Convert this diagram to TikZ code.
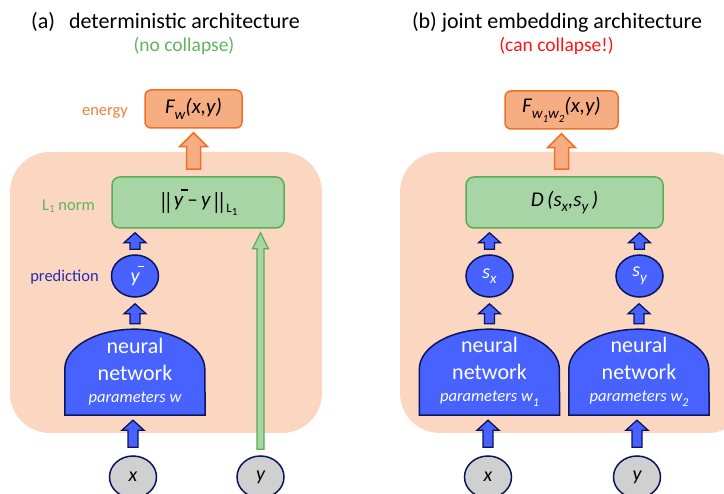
\documentclass[tikz,border=0pt]{standalone}
\usepackage{fontspec}
\setmainfont{Carlito}
\usetikzlibrary{calc,shapes.geometric}
\pgfdeclarelayer{background}
\pgfsetlayers{background,main}
\definecolor{bgsal}{RGB}{251,214,193}
\definecolor{orfill}{RGB}{247,173,130}
\definecolor{orline}{RGB}{238,112,40}
\definecolor{ortext}{RGB}{240,128,60}
\definecolor{grfill}{RGB}{167,213,166}
\definecolor{grline}{RGB}{90,174,86}
\definecolor{grtext}{RGB}{96,180,96}
\definecolor{nnblue}{RGB}{72,98,255}
\definecolor{navy}{RGB}{12,20,90}
\definecolor{predblue}{RGB}{40,45,175}
\definecolor{ingray}{RGB}{208,208,208}
\definecolor{cred}{RGB}{255,20,20}
\newcommand\sbs[1]{\raisebox{-0.28em}{\fontsize{15}{15}\selectfont #1}}
\newcommand\sbss[1]{\raisebox{-0.25em}{\fontsize{11}{11}\selectfont #1}}
\newcommand\ybar{\makebox[0pt][l]{\hspace{0.36em}\rule[0.76em]{0.3em}{0.06em}}\textit{y}}
\newcommand\nbar{\raisebox{-0.12em}{\scalebox{1}[1.12]{|}}}
\newcommand\dbar{\nbar\kern-4.5pt\nbar}
\newcommand\blockarrow[6]{%
  \draw[#1] let \p1=(#2), \p2=(#3) in
   (\x1-#4,\y1) -- (\x1-#4,\y2-#6) -- (\x1-#5,\y2-#6) -- (\x1,\y2) --
   (\x1+#5,\y2-#6) -- (\x1+#4,\y2-#6) -- (\x1+#4,\y1) -- cycle;}
\begin{document}
\begin{tikzpicture}[x=1pt,y=-1pt,
  ebox/.style={draw=orline,fill=orfill,line width=1.5pt,rounded corners=6pt,minimum width=97pt,minimum height=38pt,inner sep=0pt,font=\fontsize{21}{24}\selectfont\itshape},
  gbox/.style={draw=grline,fill=grfill,line width=1.5pt,rounded corners=8pt,minimum height=51pt,inner sep=0pt,font=\fontsize{21}{24}\selectfont},
  bell/.style={ellipse,draw=navy,fill=nnblue,line width=1.5pt,minimum width=47pt,minimum height=42pt,inner sep=0pt,text=white,font=\fontsize{20}{24}\selectfont\itshape},
  gell/.style={ellipse,draw=navy,fill=ingray,line width=1.5pt,minimum width=47pt,minimum height=42pt,inner sep=0pt,font=\fontsize{20}{24}\selectfont\itshape},
  nn/.style={minimum width=140pt,minimum height=86pt,inner sep=0pt,text=white,align=center,font=\fontsize{22}{27}\selectfont},
  nnshape/.style={draw=navy,fill=nnblue,line width=1.5pt},
  oarrow/.style={draw=orline,fill=orfill,line width=1.5pt},
  barrow/.style={draw=navy,fill=nnblue,line width=1.3pt},
  garrow/.style={draw=grline,fill=grfill,line width=1.3pt},
  lab/.style={font=\fontsize{16.5}{20}\selectfont,anchor=base},
  ttl/.style={font=\fontsize{22}{26}\selectfont,anchor=base},
  sttl/.style={font=\fontsize{19.5}{23}\selectfont,anchor=base},
]
\useasboundingbox (0,0) rectangle (724,494);
% ---------- panel (a)
\node[ttl] (tA) at (165.5,29) {(a)\hspace{14pt}deterministic architecture};
\node[sttl,text=grtext] (stA) at (184,52) {(no collapse)};
\node[ebox] (eA) at (193.5,109) {F\sbs{w}(x,y)};
\node[lab,text=ortext] (lenA) at (105,116) {energy};
\node[gbox,minimum width=172pt] (gA) at (198,202.5) {\dbar\kern0.5pt\ybar\,–\,\textit{y}\kern0.5pt\dbar\sbs{\fontsize{13}{13}\selectfont L\sbss{1}}};
\node[lab,text=grtext] (lnA) at (68.5,211) {L{\fontsize{11}{11}\selectfont\raisebox{-0.15em}{1}} norm};
\node[bell] (ybA) at (135,276) {\ybar};
\node[lab,text=predblue] (lpA) at (64.5,282) {prediction};
\node[nn] (nnA) at (135,372) {neural\\network\\[-5pt]{\fontsize{16.5}{20}\selectfont\itshape parameters w}};
\node[gell] (xA) at (133,477) {x};
\node[gell] (yA) at (260.5,477) {y};
% ---------- panel (b)
\node[ttl] (tB) at (557,29) {(b) joint embedding architecture};
\node[sttl,text=cred] (stB) at (556.5,52) {(can collapse!)};
\node[ebox,minimum width=113pt] (eB) at (561.5,110) {F\sbs{w\sbss{1}w\sbss{2}}(x,y)};
\node[gbox,minimum width=197pt] (gB) at (564.5,202.5) {\textit{D\,(s\sbs{x},s\sbs{y}\,)}};
\node[bell] (sxB) at (489.5,276) {s\sbs{x}};
\node[bell] (syB) at (639.5,276) {s\sbs{y}};
\node[nn] (nnB1) at (489.5,372) {neural\\network\\[-5pt]{\fontsize{16.5}{20}\selectfont\itshape parameters w\sbs{\fontsize{12}{12}\selectfont 1}}};
\node[nn] (nnB2) at (639,372) {neural\\network\\[-5pt]{\fontsize{16.5}{20}\selectfont\itshape parameters w\sbs{\fontsize{12}{12}\selectfont 2}}};
\node[gell] (xB) at (488,477) {x};
\node[gell] (yB) at (637,477) {y};
% ---------- backgrounds and network shapes
\begin{pgfonlayer}{background}
\fill[bgsal,rounded corners=40pt] (10,152) rectangle (322,433);
\fill[bgsal,rounded corners=40pt] (400,152) rectangle (748,433);
\foreach \n in {nnA,nnB1,nnB2}{
  \draw[nnshape] (\n.south west) -- ($(\n.south west)+(0,-46)$)
     arc[start angle=180,end angle=360,x radius=70,y radius=40] -- (\n.south east) -- cycle;
}
\end{pgfonlayer}
% ---------- arrows (a)
\blockarrow{oarrow}{$(eA |- gA.north)+(0,-7)$}{$(eA.south)+(0,4)$}{7pt}{14pt}{14pt}
\blockarrow{barrow}{$(ybA.north)+(0,-5)$}{$(gA.south -| ybA)+(0,4)$}{5pt}{11pt}{10pt}
\blockarrow{barrow}{$(nnA.north)+(0,-5)$}{$(ybA.south)+(0,6)$}{5pt}{11pt}{10pt}
\blockarrow{barrow}{$(xA.north)+(0,-8)$}{$(nnA.south -| xA)+(0,5)$}{5pt}{11pt}{10pt}
\blockarrow{garrow}{$(yA.north)+(0,-6)$}{$(gA.south -| yA)+(0,4)$}{3.5pt}{8pt}{16pt}
% ---------- arrows (b)
\blockarrow{oarrow}{$(eB |- gB.north)+(0,-7)$}{$(eB.south)+(0,4)$}{7pt}{14pt}{14pt}
\blockarrow{barrow}{$(sxB.north)+(0,-5)$}{$(gB.south -| sxB)+(0,4)$}{5pt}{11pt}{10pt}
\blockarrow{barrow}{$(syB.north)+(0,-5)$}{$(gB.south -| syB)+(0,4)$}{5pt}{11pt}{10pt}
\blockarrow{barrow}{$(nnB1.north)+(0,-5)$}{$(sxB.south)+(0,6)$}{5pt}{11pt}{10pt}
\blockarrow{barrow}{$(nnB2.north)+(0,-5)$}{$(syB.south)+(0,6)$}{5pt}{11pt}{10pt}
\blockarrow{barrow}{$(xB.north)+(0,-8)$}{$(nnB1.south -| xB)+(0,5)$}{5pt}{11pt}{10pt}
\blockarrow{barrow}{$(yB.north)+(0,-8)$}{$(nnB2.south -| yB)+(0,5)$}{5pt}{11pt}{10pt}
\end{tikzpicture}
\end{document}
